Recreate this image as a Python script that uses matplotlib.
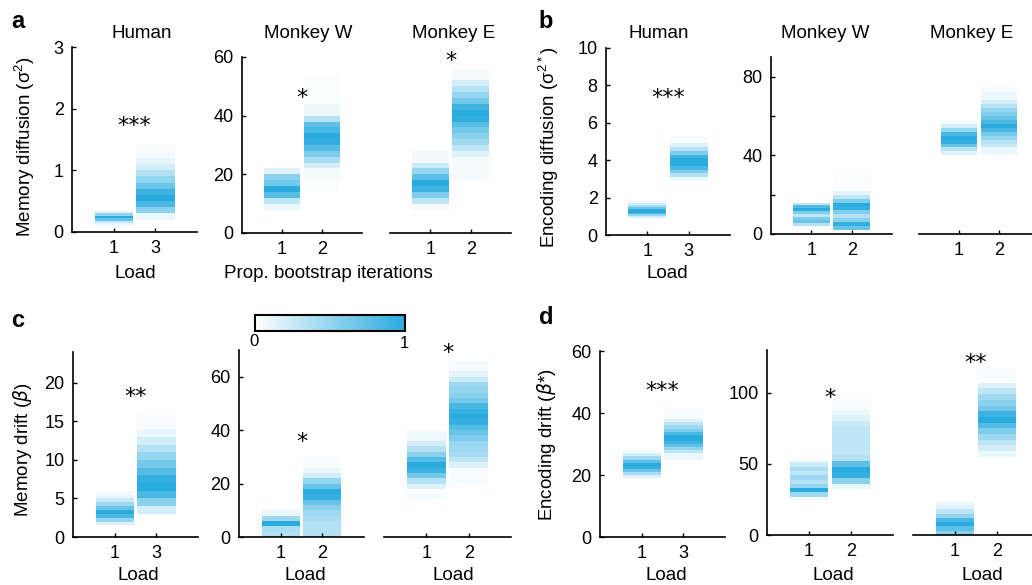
import numpy as np
import matplotlib
matplotlib.use("Agg")
import matplotlib.pyplot as plt
from matplotlib.colors import LinearSegmentedColormap
from matplotlib.cm import ScalarMappable

plt.rcParams['font.family'] = ['Liberation Sans', 'DejaVu Sans']
plt.rcParams['mathtext.fontset'] = 'dejavusans'

# each column: (first bin edge, bin width, proportion of bootstrap iterations per bin)
# panel a - memory diffusion
a_hum_1 = (0.10, 0.04, [0.1, 0.3, 0.7, 1.0, 0.5, 0.15])
a_hum_3 = (0.2, 0.1, [0.1, 0.55, 0.85, 1.0, 0.9, 0.7, 0.5, 0.35, 0.2, 0.12, 0.06, 0.03])
a_w_1 = (8, 2, [0.1, 0.3, 0.8, 1.0, 0.65, 0.55, 0.15])
a_w_2 = (14, 2, [0.03, 0.03, 0.05, 0.05, 0.2, 0.4, 0.6, 0.8, 0.95, 1.0, 0.85, 0.75, 0.35,
                 0.08, 0.08, 0.03, 0.03, 0.02, 0.02, 0.02])
a_e_1 = (8, 2, [0.05, 0.3, 0.6, 0.9, 1.0, 0.75, 0.5, 0.25, 0.06, 0.06])
a_e_2 = (18, 2, [0.05, 0.05, 0.05, 0.05, 0.15, 0.3, 0.45, 0.55, 0.65, 0.8, 0.95, 1.0, 0.9,
                 0.65, 0.5, 0.35, 0.2, 0.05, 0.05])
# panel b - encoding diffusion
b_hum_1 = (0.9, 0.1, [0.2, 0.5, 0.85, 1.0, 1.0, 0.7, 0.4, 0.2, 0.08])
b_hum_3 = (2.9, 0.2, [0.1, 0.35, 0.6, 0.85, 1.0, 1.0, 0.9, 0.6, 0.35, 0.15, 0.04, 0.04])
b_w_1 = (4, 1.5, [0.35, 0.7, 0.6, 0.3, 0.6, 1.0, 0.8, 0.3])
b_w_2 = (2, 2, [0.7, 0.95, 0.55, 0.35, 0.6, 0.95, 1.0, 0.6, 0.3, 0.12, 0.03, 0.03, 0.03, 0.03])
b_e_1 = (40, 2, [0.15, 0.35, 0.7, 0.95, 1.0, 0.85, 0.5, 0.2, 0.05])
b_e_2 = (40, 2, [0.1, 0.1, 0.25, 0.35, 0.5, 0.65, 0.85, 1.0, 0.85, 0.7, 0.6, 0.5, 0.35, 0.2,
                 0.08, 0.08, 0.03, 0.03])
# panel c - memory drift
c_hum_1 = (1.5, 0.5, [0.15, 0.5, 0.85, 1.0, 0.7, 0.45, 0.25, 0.1, 0.05])
c_hum_3 = (3, 1, [0.2, 0.55, 0.85, 1.0, 0.95, 0.8, 0.65, 0.5, 0.35, 0.2, 0.1, 0.04, 0.03])
c_w_1 = (0, 2, [0.35, 0.4, 1.0, 0.45, 0.1])
c_w_2 = (0, 2, [0.35, 0.35, 0.35, 0.4, 0.45, 0.55, 0.7, 0.95, 1.0, 0.7, 0.5, 0.2, 0.1, 0.04, 0.03])
c_e_1 = (14, 2, [0.04, 0.04, 0.15, 0.35, 0.65, 0.9, 1.0, 0.8, 0.55, 0.35, 0.2, 0.08, 0.05])
c_e_2 = (20, 2, [0.04, 0.04, 0.04, 0.15, 0.3, 0.4, 0.45, 0.5, 0.6, 0.7, 0.8, 0.95, 1.0, 0.95,
                 0.85, 0.65, 0.55, 0.5, 0.45, 0.25, 0.12, 0.05, 0.05])
# panel d - encoding drift
d_hum_1 = (19, 1, [0.15, 0.4, 0.7, 0.95, 1.0, 0.75, 0.45, 0.2, 0.05])
d_hum_3 = (25, 1, [0.1, 0.1, 0.3, 0.5, 0.75, 0.9, 1.0, 1.0, 0.85, 0.6, 0.45, 0.3, 0.15,
                   0.04, 0.04, 0.04])
d_w_1 = (24, 3, [0.05, 0.45, 1.0, 0.5, 0.35, 0.45, 0.3, 0.4, 0.25, 0.05])
d_w_2 = (32, 4, [0.1, 0.55, 0.95, 1.0, 0.75, 0.35, 0.3, 0.3, 0.3, 0.3, 0.3, 0.25, 0.15, 0.1,
                 0.04, 0.04])
d_e_1 = (0, 3, [0.55, 0.75, 1.0, 0.85, 0.5, 0.3, 0.15, 0.06])
d_e_2 = (55, 4, [0.1, 0.2, 0.3, 0.45, 0.6, 0.8, 1.0, 0.9, 0.65, 0.55, 0.45, 0.3, 0.15, 0.04, 0.04])

# significance stars (count, height)
stars = {
    'a_hum': (3, 1.72), 'a_w': (1, 46), 'a_e': (1, 58.5),
    'b_hum': (3, 7.3),
    'c_hum': (2, 18.2), 'c_w': (1, 35.5), 'c_e': (1, 69),
    'd_hum': (3, 47), 'd_w': (1, 96.5), 'd_e': (2, 121),
}

cmap = LinearSegmentedColormap.from_list('bs', ['#ffffff', '#29abdf'])

W, H = 1032, 585
fig = plt.figure(figsize=(W / 100, H / 100), dpi=100)


def add_ax(l, r, t, b):
    return fig.add_axes([l / W, 1 - b / H, (r - l) / W, (b - t) / H])


def draw_col(ax, pos, col):
    lo, w, props = col
    props = np.array(props)
    bottoms = lo + w * np.arange(len(props))
    ax.bar(np.full(len(props), pos), w, bottom=bottoms, width=0.92,
           color=cmap(props), linewidth=0, antialiased=False)


def style(ax, ylim, yticks, ylabels, xlabels, show_y=True):
    ax.set_xlim(0, 3)
    ax.set_ylim(*ylim)
    ax.set_xticks([1, 2])
    ax.set_xticklabels(xlabels)
    for s in ['top', 'right']:
        ax.spines[s].set_visible(False)
    ax.spines['bottom'].set_linewidth(1.2)
    ax.spines['left'].set_linewidth(1.2)
    ax.tick_params(direction='in', length=3, width=1, labelsize=13, pad=6)
    if show_y:
        ax.set_yticks(yticks)
        ax.set_yticklabels(ylabels)
    else:
        ax.spines['left'].set_visible(False)
        ax.tick_params(axis='y', left=False, labelleft=False)


def star(ax, key):
    if key in stars:
        n, y = stars[key]
        ax.text(1.5, y, '*' * n, ha='center', va='center',
                fontsize=16, family=['DejaVu Sans'])


# row 1
ax = add_ax(72, 197, 47, 232)
draw_col(ax, 1, a_hum_1); draw_col(ax, 2, a_hum_3)
style(ax, (0, 3), [0, 1, 2, 3], ['0', '1', '2', '3'], ['1', '3'])
star(ax, 'a_hum')

ax = add_ax(242, 362, 57, 233)
draw_col(ax, 1, a_w_1); draw_col(ax, 2, a_w_2)
style(ax, (0, 60), [0, 20, 40, 60], ['0', '20', '40', '60'], ['1', '2'])
star(ax, 'a_w')

ax = add_ax(390, 511, 57, 233)
draw_col(ax, 1, a_e_1); draw_col(ax, 2, a_e_2)
style(ax, (0, 60), [], [], ['1', '2'], show_y=False)
star(ax, 'a_e')

ax = add_ax(606, 730, 48, 235)
draw_col(ax, 1, b_hum_1); draw_col(ax, 2, b_hum_3)
style(ax, (0, 10), [0, 2, 4, 6, 8, 10], ['0', '2', '4', '6', '8', '10'], ['1', '3'])
star(ax, 'b_hum')

ax = add_ax(771, 892, 57, 234)
draw_col(ax, 1, b_w_1); draw_col(ax, 2, b_w_2)
style(ax, (0, 90), [0, 20, 40, 60, 80], ['0', '', '40', '', '80'], ['1', '2'])

ax = add_ax(919, 1039, 57, 234)
draw_col(ax, 1, b_e_1); draw_col(ax, 2, b_e_2)
style(ax, (0, 90), [], [], ['1', '2'], show_y=False)

# row 2
ax = add_ax(73, 198, 352, 537)
draw_col(ax, 1, c_hum_1); draw_col(ax, 2, c_hum_3)
style(ax, (0, 24), [0, 5, 10, 15, 20], ['0', '5', '10', '15', '20'], ['1', '3'])
star(ax, 'c_hum')

ax = add_ax(239, 364, 350, 537)
draw_col(ax, 1, c_w_1); draw_col(ax, 2, c_w_2)
style(ax, (0, 70), [0, 20, 40, 60], ['0', '20', '40', '60'], ['1', '2'])
star(ax, 'c_w')

ax = add_ax(384, 511, 350, 537)
draw_col(ax, 1, c_e_1); draw_col(ax, 2, c_e_2)
style(ax, (0, 70), [], [], ['1', '2'], show_y=False)
star(ax, 'c_e')

ax = add_ax(600, 725, 351, 537)
draw_col(ax, 1, d_hum_1); draw_col(ax, 2, d_hum_3)
style(ax, (0, 60), [0, 20, 40, 60], ['0', '20', '40', '60'], ['1', '3'])
star(ax, 'd_hum')

ax = add_ax(767, 893, 350, 535)
draw_col(ax, 1, d_w_1); draw_col(ax, 2, d_w_2)
style(ax, (0, 130), [0, 50, 100], ['0', '50', '100'], ['1', '2'])
star(ax, 'd_w')

ax = add_ax(913, 1039, 350, 535)
draw_col(ax, 1, d_e_1); draw_col(ax, 2, d_e_2)
style(ax, (0, 130), [], [], ['1', '2'], show_y=False)
star(ax, 'd_e')

# colorbar
cax = add_ax(255, 405, 315, 331)
cb = fig.colorbar(ScalarMappable(cmap=cmap), cax=cax, orientation='horizontal')
cb.set_ticks([])
cb.outline.set_linewidth(1.5)
fig.text(254 / W, 1 - 342 / H, '0', ha='center', va='center', fontsize=12)
fig.text(404 / W, 1 - 343 / H, '1', ha='center', va='center', fontsize=12)


def ftext(x, y, s, **kw):
    fig.text(x / W, 1 - y / H, s, ha='center', va='center', **kw)


# panel letters
for lab, x, y in [('a', 18, 21), ('b', 546, 22), ('c', 18, 320), ('d', 546, 318)]:
    ftext(x, y, lab, fontsize=17, fontweight='bold')

# titles
for x, t in [(142, 'Human'), (308, 'Monkey W'), (454, 'Monkey E'),
             (659, 'Human'), (825, 'Monkey W'), (972, 'Monkey E')]:
    ftext(x, 33, t, fontsize=13.5)

# y labels
ftext(25, 147, r'Memory diffusion ($\mathregular{\sigma^2}$)', fontsize=13.5, rotation=90)
ftext(549, 147, r'Encoding diffusion ($\mathregular{\sigma^{2*}}$)', fontsize=13.5, rotation=90)
ftext(22, 450, r'Memory drift ($\beta$)', fontsize=13.5, rotation=90)
ftext(547, 445, r'Encoding drift ($\beta$*)', fontsize=13.5, rotation=90)

# x labels
ftext(135, 273, 'Load', fontsize=13.5)
ftext(328, 273, 'Prop. bootstrap iterations', fontsize=13.5)
ftext(667, 273, 'Load', fontsize=13.5)
for x in [138, 305, 453, 666, 833, 982]:
    ftext(x, 575, 'Load', fontsize=13.5)

fig.savefig('out.png', dpi=100)
